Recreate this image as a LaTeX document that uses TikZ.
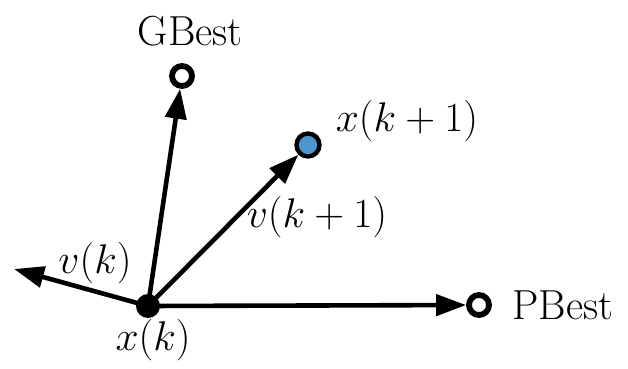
\documentclass[tikz,border=0pt]{standalone}
\usetikzlibrary{arrows.meta}
\definecolor{dotblue}{RGB}{78,150,208}
\begin{document}
\begin{tikzpicture}[x=0.5pt,y=-0.5pt,
  vec/.style={line width=2.3pt,-{Triangle[length=15pt,width=10.5pt]}},
  ring/.style={circle,draw,line width=2.9pt,fill=white,minimum size=10pt,inner sep=0pt},
  lbl/.style={font=\fontsize{21}{25}\selectfont,inner sep=0pt}]
\useasboundingbox (0,0) rectangle (628,369);
\node[circle,fill=black,minimum size=12pt,inner sep=0pt] (O) at (148,306) {};
\coordinate (L) at (14,269);
\node[ring] (G) at (182,76) {};
\node[circle,draw,line width=2.2pt,fill=dotblue,minimum size=11.5pt,inner sep=0pt] (B) at (308,145) {};
\node[ring] (P) at (479,305) {};
\draw[vec] (O.center) -- (L);
\draw[vec] (O.center) -- (G);
\draw[vec] (O.center) -- (B);
\draw[vec] (O.center) -- (P);
\node[lbl] (tG) at (190,31) {GBest};
\node[lbl] (tB) at (407,121) {$x(k+1)$};
\node[lbl] (tV1) at (317,217) {$v(k+1)$};
\node[lbl] (tV) at (95,263) {$v(k)$};
\node[lbl] (tO) at (153,340) {$x(k)$};
\node[lbl] (tP) at (563,305) {PBest};
\end{tikzpicture}
\end{document}
